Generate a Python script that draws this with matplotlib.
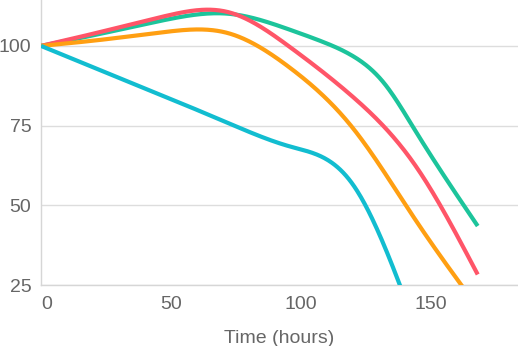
import matplotlib
matplotlib.use('Agg')
import matplotlib.pyplot as plt
import numpy as np

# data (hours, value)
hours = [0, 24, 48, 72, 96, 120, 144, 168]
green_hours = [0, 24, 48, 72, 96, 108, 120, 132, 144, 168]
green = [100, 104, 108.2, 110.1, 105, 101.4, 96.8, 88.3, 73.4, 43.5]
red = [100, 104.6, 109.4, 110.6, 99.5, 84, 62.5, 28.3]
orange = [100, 102, 104.4, 104, 93, 74.2, 45.5, 18]
cyan_hours = [0, 24, 48, 72, 96, 120, 144]
cyan = [100, 92, 84, 75.8, 68.4, 56.5, 12]

series = [(green_hours, green, '#1cc49b'), (hours, red, '#ff5568'),
          (hours, orange, '#ff9f12'), (cyan_hours, cyan, '#12bdd0')]

yticks = [25, 50, 75, 100]
xticks = [0, 50, 100, 150]
grey = '#666666'

# natural cubic spline, only used to draw a smooth line through the points
def spline(x, y, n=400):
    x = np.asarray(x, float)
    y = np.asarray(y, float)
    N = len(x)
    h = np.diff(x)
    A = np.zeros((N, N))
    b = np.zeros(N)
    A[0, 0] = 1
    A[-1, -1] = 1
    for i in range(1, N - 1):
        A[i, i-1] = h[i-1]
        A[i, i] = 2*(h[i-1] + h[i])
        A[i, i+1] = h[i]
        b[i] = 6*((y[i+1]-y[i])/h[i] - (y[i]-y[i-1])/h[i-1])
    M = np.linalg.solve(A, b)
    xs = np.linspace(x[0], x[-1], n)
    k = np.clip(np.searchsorted(x, xs) - 1, 0, N - 2)
    hk = h[k]
    a = x[k+1] - xs
    c = xs - x[k]
    ys = (M[k]*a**3 + M[k+1]*c**3)/(6*hk) + (y[k]/hk - M[k]*hk/6)*a + (y[k+1]/hk - M[k+1]*hk/6)*c
    return xs, ys

plt.rcParams['font.family'] = ['Liberation Sans', 'DejaVu Sans']

fig = plt.figure(figsize=(5.18, 3.46), dpi=100)
ax = fig.add_axes([41/518, 61/346, 477/518, 285/346])

for xs, ys, c in series:
    sx, sy = spline(xs, ys)
    ax.plot(sx, sy, color=c, lw=3, solid_capstyle='butt', zorder=3)

ax.set_xlim(0, 183.5)
ax.set_ylim(25, 114.4)
ax.set_yticks(yticks)
ax.set_xticks(xticks)
ax.grid(axis='y', color='#dddddd', lw=1)
ax.set_axisbelow(True)
for s in ['top', 'right']:
    ax.spines[s].set_visible(False)
for s in ['left', 'bottom']:
    ax.spines[s].set_color('#d6d6d6')
    ax.spines[s].set_linewidth(1)
ax.tick_params(length=0, labelsize=14, colors=grey)
ax.tick_params(axis='y', pad=7)
ax.tick_params(axis='x', pad=8)
ax.get_xticklabels()[0].set_horizontalalignment('left')
ax.set_xlabel('Time (hours)', fontsize=14, color=grey, labelpad=12)

fig.savefig('out.png', dpi=100)
